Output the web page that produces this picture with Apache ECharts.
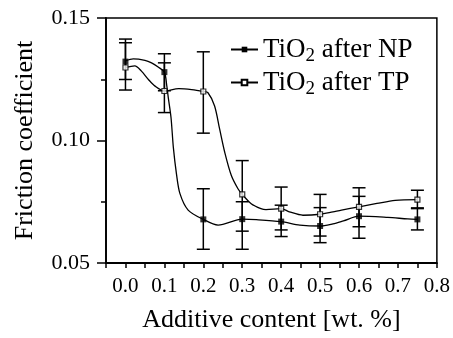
<!DOCTYPE html>
<html>
<head>
<meta charset="utf-8">
<script src="https://cdn.jsdelivr.net/npm/echarts@6/dist/echarts.min.js"></script>
<style>
html, body { margin: 0; padding: 0; background: #fff; }
#container { width: 453px; height: 338px; }
</style>
</head>
<body>
<div id="container"></div>
<script>
var dom = document.getElementById("container");
var myChart = echarts.init(dom);

// measured points (additive content, wt.%)
var xValues = [0, 0.1, 0.2, 0.3, 0.4, 0.5, 0.6, 0.75];

// TiO2 after NP
var npMean = [0.1322, 0.1279, 0.0678, 0.0679, 0.0669, 0.0651, 0.0691, 0.0678];
var npHigh = [0.1399, 0.1354, 0.0803, 0.0750, 0.0736, 0.0726, 0.0772, 0.0725];
var npLow  = [0.1249, 0.1203, 0.0556, 0.0556, 0.0608, 0.0583, 0.0601, 0.0635];

// TiO2 after TP
var tpMean = [0.1298, 0.1202, 0.1200, 0.0780, 0.0722, 0.0699, 0.0729, 0.0759];
var tpHigh = [0.1414, 0.1317, 0.1362, 0.0918, 0.0810, 0.0780, 0.0807, 0.0797];
var tpLow  = [0.1206, 0.1114, 0.1030, 0.0630, 0.0635, 0.0610, 0.0648, 0.0722];

// fitted curves
var npCurve = [
    [0, 0.1325], [0.02, 0.1333], [0.05, 0.1327], [0.067, 0.1317], [0.084, 0.1300],
    [0.1, 0.1279], [0.106, 0.1225], [0.11, 0.1175], [0.117, 0.1094], [0.123, 0.0972],
    [0.131, 0.0864], [0.14, 0.0783], [0.161, 0.0716], [0.2, 0.0678], [0.238, 0.0655],
    [0.3, 0.0679], [0.336, 0.0677], [0.4, 0.0669], [0.448, 0.0655], [0.5, 0.0651],
    [0.533, 0.0660], [0.56, 0.0672], [0.6, 0.0691], [0.674, 0.0686], [0.725, 0.0680],
    [0.75, 0.0678]
];
var tpCurve = [
    [0, 0.1298], [0.024, 0.1305], [0.041, 0.1283], [0.059, 0.1249], [0.076, 0.1222],
    [0.1, 0.1202], [0.137, 0.1212], [0.17, 0.1208], [0.2, 0.1200], [0.212, 0.1195],
    [0.229, 0.1141], [0.242, 0.1046], [0.255, 0.0952], [0.272, 0.0857], [0.289, 0.0803],
    [0.3, 0.0780], [0.323, 0.0742], [0.348, 0.0722], [0.361, 0.0718], [0.4, 0.0722],
    [0.421, 0.0709], [0.456, 0.0695], [0.5, 0.0699], [0.533, 0.0709], [0.555, 0.0716],
    [0.6, 0.0729], [0.646, 0.0743], [0.693, 0.0756], [0.75, 0.0759]
];

var seriesNames = ['TiO2 after NP', 'TiO2 after TP'];

var font = 'Liberation Serif';

function pairs(xs, ys) {
    return xs.map(function (x, i) { return [x, ys[i]]; });
}
function bars(xs, lo, hi) {
    return xs.map(function (x, i) { return [x, lo[i], hi[i]]; });
}

function renderErr(params, api) {
    var top = api.coord([api.value(0), api.value(2)]);
    var bot = api.coord([api.value(0), api.value(1)]);
    var w = 6.5;
    var st = { stroke: '#000', lineWidth: 1.5 };
    return {
        type: 'group',
        children: [
            { type: 'line', shape: { x1: top[0], y1: top[1], x2: bot[0], y2: bot[1] }, style: st },
            { type: 'line', shape: { x1: top[0] - w, y1: top[1], x2: top[0] + w, y2: top[1] }, style: st },
            { type: 'line', shape: { x1: bot[0] - w, y1: bot[1], x2: bot[0] + w, y2: bot[1] }, style: st }
        ]
    };
}

option = {
    animation: false,
    grid: {
        left: 106,
        right: 13,
        top: 18,
        bottom: 73,
        show: true,
        borderColor: '#000',
        borderWidth: 1.5
    },
    legend: {
        orient: 'vertical',
        left: 225,
        top: 31,
        itemWidth: 27,
        itemHeight: 7,
        itemGap: 3,
        selectedMode: false,
        data: seriesNames,
        formatter: function (name) {
            return '{n|TiO}{s|2}{n|' + name.slice(4) + '}';
        },
        textStyle: {
            color: '#000',
            fontFamily: font,
            fontSize: 27,
            rich: {
                n: { fontFamily: font, fontSize: 27, color: '#000' },
                s: { fontFamily: font, fontSize: 19, color: '#000', padding: [14, 0, 0, 0] }
            }
        }
    },
    xAxis: {
        type: 'value',
        min: -0.05,
        max: 0.8,
        interval: 0.05,
        name: 'Additive content [wt. %]',
        nameLocation: 'middle',
        nameGap: 44,
        nameTextStyle: { fontFamily: font, fontSize: 26, color: '#000' },
        axisLine: { onZero: false, lineStyle: { color: '#000', width: 1.8 } },
        axisTick: { length: 5, lineStyle: { color: '#000', width: 1.5 } },
        axisLabel: {
            margin: 13,
            fontFamily: font,
            fontSize: 21,
            color: '#000',
            formatter: function (v) {
                return Math.abs(Math.round(v * 20)) % 2 === 0 ? v.toFixed(1) : '';
            }
        },
        splitLine: { show: false }
    },
    yAxis: {
        type: 'value',
        min: 0.05,
        max: 0.15,
        interval: 0.05,
        name: 'Friction coefficient',
        nameLocation: 'middle',
        nameGap: 68,
        nameTextStyle: { fontFamily: font, fontSize: 26, color: '#000' },
        axisLine: { show: true, onZero: false, lineStyle: { color: '#000', width: 1.8 } },
        axisTick: { show: true, length: 9, lineStyle: { color: '#000', width: 1.5 } },
        minorTick: { show: true, splitNumber: 2, length: 5, lineStyle: { color: '#000', width: 1.5 } },
        axisLabel: {
            margin: 16,
            fontFamily: font,
            fontSize: 22,
            color: '#000',
            formatter: function (v) { return v.toFixed(2); }
        },
        splitLine: { show: false }
    },
    series: [{
        type: 'custom',
        renderItem: renderErr,
        encode: { x: 0, y: [1, 2] },
        z: 1,
        data: bars(xValues, npLow, npHigh)
    }, {
        type: 'custom',
        renderItem: renderErr,
        encode: { x: 0, y: [1, 2] },
        z: 1,
        data: bars(xValues, tpLow, tpHigh)
    }, {
        name: seriesNames[0],
        type: 'line',
        smooth: 0.3,
        showSymbol: false,
        symbol: 'rect',
        lineStyle: { color: '#000', width: 1.3 },
        itemStyle: { color: '#000' },
        z: 2,
        data: npCurve
    }, {
        name: seriesNames[1],
        type: 'line',
        smooth: 0.3,
        showSymbol: false,
        symbol: 'rect',
        lineStyle: { color: '#000', width: 1.3 },
        itemStyle: { color: '#fff', borderColor: '#000', borderWidth: 1.2 },
        z: 2,
        data: tpCurve
    }, {
        type: 'scatter',
        symbol: 'rect',
        symbolSize: 6,
        itemStyle: { color: '#000' },
        z: 3,
        data: pairs(xValues, npMean)
    }, {
        type: 'scatter',
        symbol: 'rect',
        symbolSize: 5,
        itemStyle: { color: '#fff', borderColor: '#000', borderWidth: 1.2 },
        z: 3,
        data: pairs(xValues, tpMean)
    }]
};

if (option && typeof option === "object") {
    myChart.setOption(option, true);
}
</script>
</body>
</html>
